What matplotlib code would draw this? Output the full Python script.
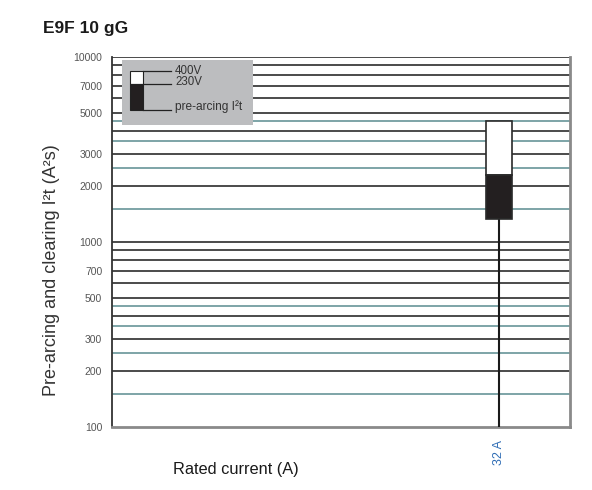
import numpy as np
import matplotlib.pyplot as plt
from matplotlib.patches import Rectangle

# data
title = "E9F 10 gG"
ratings = ["32 A"]
prearc = [1330]      # pre-arcing I2t
clear_230 = [2300]   # clearing I2t at 230V
clear_400 = [4500]   # clearing I2t at 400V

ytick_vals = [100, 200, 300, 500, 700, 1000, 2000, 3000, 5000, 7000, 10000]
black_lines = [200, 300, 400, 500, 600, 700, 800, 900, 1000,
               2000, 3000, 4000, 5000, 6000, 7000, 8000, 9000, 10000]
teal_lines = [150, 250, 350, 450, 1500, 2500, 3500, 4500]

plt.rcParams['font.family'] = ['Liberation Sans', 'DejaVu Sans']

fig = plt.figure(figsize=(5.92, 4.9), dpi=100)
ax = fig.add_axes([112 / 592, 63 / 490, 458 / 592, 370 / 490])
ax.set_yscale('log')
ax.set_ylim(100, 10000)
ax.set_xlim(0, 1)

for v in black_lines:
    ax.axhline(v, color='#1a1a1a', lw=1.1, zorder=1)
for v in teal_lines:
    ax.axhline(v, color='#5a8b90', lw=1.1, zorder=1)

xpos = [0.845]
w = 0.058
for x, p, c2, c4 in zip(xpos, prearc, clear_230, clear_400):
    ax.plot([x, x], [100, p], color='#1a1a1a', lw=1.5, zorder=3)
    ax.add_patch(Rectangle((x - w / 2, c2), w, c4 - c2, facecolor='white',
                           edgecolor='#2a2a2a', lw=1.2, zorder=4))
    ax.add_patch(Rectangle((x - w / 2, p), w, c2 - p, facecolor='#231f20',
                           edgecolor='#2a2a2a', lw=1.2, zorder=4))

# legend box
ax.add_patch(Rectangle((0.0218, 0.816), 0.286, 0.176, transform=ax.transAxes,
                       facecolor='#bcbdbf', edgecolor='none', zorder=5))
ax.add_patch(Rectangle((0.0393, 0.927), 0.0277, 0.035, transform=ax.transAxes,
                       facecolor='white', edgecolor='#222222', lw=0.8, zorder=6))
ax.add_patch(Rectangle((0.0393, 0.857), 0.0277, 0.070, transform=ax.transAxes,
                       facecolor='#231f20', edgecolor='#222222', lw=0.8, zorder=6))
for yy in [0.962, 0.927, 0.857]:
    ax.plot([0.067, 0.128], [yy, yy], transform=ax.transAxes,
            color='#222222', lw=0.9, zorder=6)
ax.text(0.1376, 0.963, "400V", transform=ax.transAxes, fontsize=8.3,
        color='#333333', va='center', zorder=7)
ax.text(0.1376, 0.932, "230V", transform=ax.transAxes, fontsize=8.3,
        color='#333333', va='center', zorder=7)
ax.text(0.1376, 0.866, "pre-arcing I²t", transform=ax.transAxes, fontsize=8.6,
        color='#333333', va='center', zorder=7)

ax.set_yticks(ytick_vals)
ax.set_yticklabels([str(v) for v in ytick_vals])
ax.yaxis.set_minor_locator(plt.NullLocator())
ax.tick_params(axis='y', length=0, pad=7, labelsize=7.5, labelcolor='#555555')
ax.set_xticks(xpos)
ax.set_xticklabels(ratings, rotation=90)
ax.tick_params(axis='x', length=0, pad=9, labelsize=9, labelcolor='#2f6db5')

ax.spines['left'].set_color('#333333')
ax.spines['left'].set_linewidth(1.3)
ax.spines['right'].set_color('#8a8a8a')
ax.spines['right'].set_linewidth(2)
ax.spines['bottom'].set_color('#8a8a8a')
ax.spines['bottom'].set_linewidth(2)
ax.spines['top'].set_visible(False)

fig.text(43 / 592, 1 - 28 / 490, title, fontsize=12.5, fontweight='bold',
         color='#1a1a1a', va='center', ha='left')
fig.text(52 / 592, 1 - 270 / 490, "Pre-arcing and clearing I²t (A²s)",
         rotation=90, fontsize=13, color='#333333', va='center', ha='center')
fig.text(236 / 592, 1 - 469 / 490, "Rated current (A)", fontsize=11.8,
         color='#1a1a1a', va='center', ha='center')

fig.savefig('out.png', dpi=100)
